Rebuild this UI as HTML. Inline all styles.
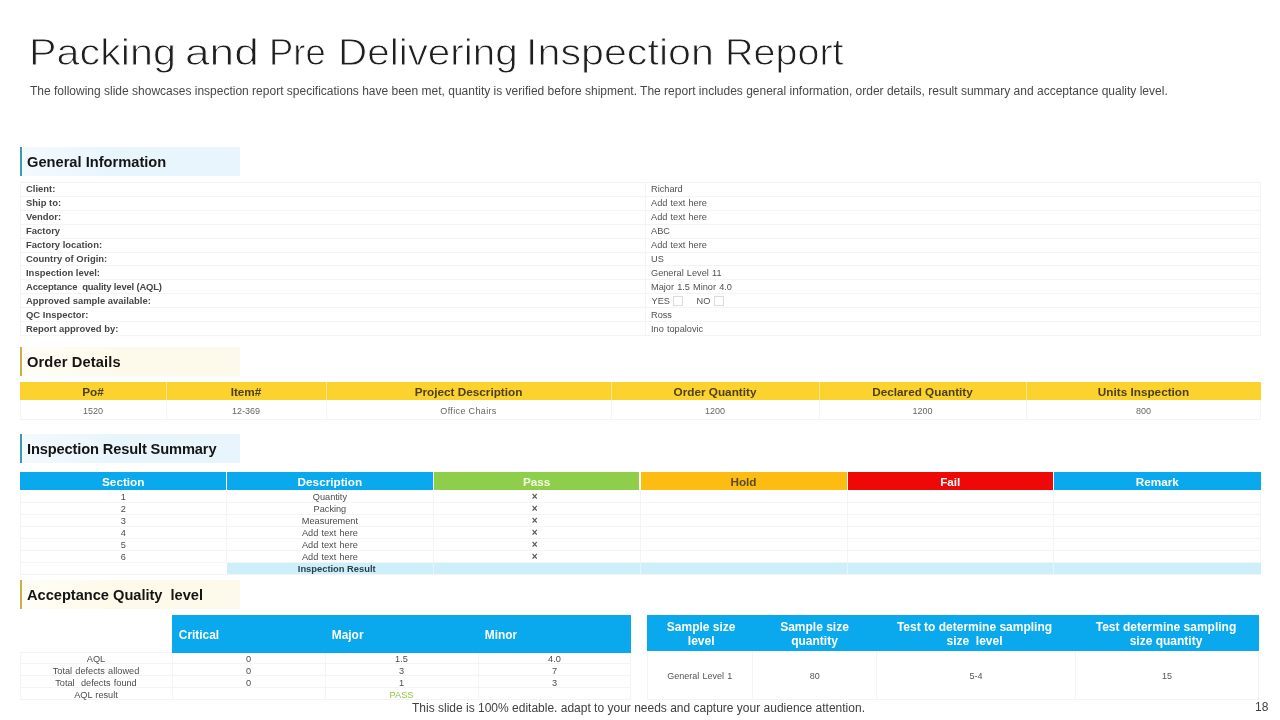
<!DOCTYPE html>
<html><head><meta charset="utf-8"><title>Packing and Pre Delivering Inspection Report</title>
<style>
*{box-sizing:border-box;margin:0;padding:0}
html,body{width:1280px;height:720px;overflow:hidden;background:#fff}
body{font-family:"Liberation Sans",sans-serif;color:#333;position:relative}
.abs{position:absolute;white-space:nowrap}
.b{position:absolute}
.t{position:absolute;white-space:nowrap;height:0;line-height:0;margin-top:-0.3465em}
#title{position:absolute;left:0;top:0;font-weight:normal;font-size:35px;color:#1f1f1f;-webkit-text-stroke:0.85px #fff}
#title span{position:absolute;top:31.7px;white-space:nowrap;transform-origin:0 0}
#sub{left:30px;top:84px;font-size:12px;line-height:14px;color:#484848}
.sec{position:absolute;left:20px;width:220px;height:29px;border-left:2px solid #3a9bb0;font-weight:bold;font-size:14.67px;line-height:31px;padding-left:5px;color:#151515;white-space:nowrap;overflow:hidden;background:linear-gradient(90deg,#f3fafe,#e9f5fd 40%)}
.sec.y{border-left-color:#cdb045;background:linear-gradient(90deg,#fffdf6,#fefaeb 40%)}
.lab{font-weight:bold;font-size:9.45px;color:#464646}
.val{font-size:9.2px;word-spacing:.6px;color:#505050}
.cb{display:inline-block;width:9px;height:9px;border:1px solid #d4d4d4;vertical-align:-1.5px;margin-left:3px}
.oh{font-weight:bold;font-size:11.75px;color:#4d4118}
.ov{font-size:9px;color:#666}
.ih{font-weight:bold;font-size:11.75px}
.iv{font-size:9.2px;word-spacing:.6px;color:#4c4c4c}
.ix{font-size:10px;font-weight:bold;color:#555}
.ib{font-weight:bold;font-size:9.35px;color:#2a3d48}
.ah{font-weight:bold;font-size:11.9px;color:#fff}
.sh{font-weight:bold;font-size:12px;color:#fff}
.sv{font-size:9px;word-spacing:.7px;color:#555}
#foot{left:412px;top:701px;font-size:12px;line-height:14px;color:#404040}
#pn{left:1255px;top:700px;font-size:12px;line-height:14px;color:#404040}
</style></head><body>
<h1 id="title"><span style="left:28.96px;transform:scale(1.1807,1.04)">Packing</span> <span style="left:185.47px;transform:scale(1.2639,1.04)">and</span> <span style="left:269.38px;transform:scale(1.0408,1.04)">Pre</span> <span style="left:337.79px;transform:scale(1.155,1.04)">Delivering</span> <span style="left:525.89px;transform:scale(1.1778,1.04)">Inspection</span> <span style="left:724.61px;transform:scale(1.1287,1.04)">Report</span></h1>
<div id="sub" class="abs">The following slide showcases inspection report specifications have been met, quantity is verified before shipment. The report includes general information, order details, result summary and acceptance quality level.</div>
<div class="sec" style="top:147px">General Information</div>
<div class="sec y" style="top:347px;letter-spacing:0.13px">Order Details</div>
<div class="sec" style="top:434px;letter-spacing:-0.145px">Inspection Result Summary</div>
<div class="sec y" style="top:580px;letter-spacing:-0.03px">Acceptance Quality&nbsp; level</div>
<div class="b" style="left:20px;top:182.0px;width:1241px;height:153.9px;border:1px solid #f4f4f4;"></div>
<div class="b" style="left:645px;top:183.0px;width:1px;height:152.9px;background:#f4f4f4;"></div>
<div class="t lab" style="left:26px;top:192.6px;">Client:</div>
<div class="t val" style="left:651px;top:191.7px;">Richard</div>
<div class="b" style="left:20px;top:195.9px;width:1241px;height:1.0px;background:#f4f4f4;"></div>
<div class="t lab" style="left:26px;top:206.6px;">Ship to:</div>
<div class="t val" style="left:651px;top:205.7px;">Add text here</div>
<div class="b" style="left:20px;top:209.8px;width:1241px;height:1.0px;background:#f4f4f4;"></div>
<div class="t lab" style="left:26px;top:220.6px;">Vendor:</div>
<div class="t val" style="left:651px;top:219.7px;">Add text here</div>
<div class="b" style="left:20px;top:223.7px;width:1241px;height:1.0px;background:#f4f4f4;"></div>
<div class="t lab" style="left:26px;top:234.6px;">Factory</div>
<div class="t val" style="left:651px;top:233.7px;">ABC</div>
<div class="b" style="left:20px;top:237.6px;width:1241px;height:1.0px;background:#f4f4f4;"></div>
<div class="t lab" style="left:26px;top:248.6px;">Factory location:</div>
<div class="t val" style="left:651px;top:247.7px;">Add text here</div>
<div class="b" style="left:20px;top:251.5px;width:1241px;height:1.0px;background:#f4f4f4;"></div>
<div class="t lab" style="left:26px;top:262.6px;">Country of Origin:</div>
<div class="t val" style="left:651px;top:261.7px;">US</div>
<div class="b" style="left:20px;top:265.4px;width:1241px;height:1.0px;background:#f4f4f4;"></div>
<div class="t lab" style="left:26px;top:276.6px;">Inspection level:</div>
<div class="t val" style="left:651px;top:275.7px;">General Level 11</div>
<div class="b" style="left:20px;top:279.3px;width:1241px;height:1.0px;background:#f4f4f4;"></div>
<div class="t lab" style="left:26px;top:290.6px;"><span style="letter-spacing:-0.17px">Acceptance&nbsp; quality level (AQL)</span></div>
<div class="t val" style="left:651px;top:289.7px;">Major 1.5 Minor 4.0</div>
<div class="b" style="left:20px;top:293.2px;width:1241px;height:1.0px;background:#f4f4f4;"></div>
<div class="t lab" style="left:26px;top:304.6px;">Approved sample available:</div>
<div class="t val" style="left:651.5px;top:303.7px;">YES</div>
<div class="t val" style="left:696.5px;top:303.7px;">NO</div>
<div class="b" style="left:673px;top:296px;width:10px;height:10px;border:1px solid #dcdcdc;"></div>
<div class="b" style="left:714px;top:296px;width:10px;height:10px;border:1px solid #dcdcdc;"></div>
<div class="b" style="left:20px;top:307.1px;width:1241px;height:1.0px;background:#f4f4f4;"></div>
<div class="t lab" style="left:26px;top:318.6px;">QC Inspector:</div>
<div class="t val" style="left:651px;top:317.7px;">Ross</div>
<div class="b" style="left:20px;top:321.0px;width:1241px;height:1.0px;background:#f4f4f4;"></div>
<div class="t lab" style="left:26px;top:332.6px;">Report approved by:</div>
<div class="t val" style="left:651px;top:331.7px;">Ino topalovic</div>
<div class="b" style="left:20px;top:382px;width:1241px;height:18.2px;background:#fcd22f;"></div>
<div class="b" style="left:20px;top:400.2px;width:1241px;height:20.3px;border:1px solid #f4f4f4;border-top:0;"></div>
<div class="t oh" style="left:93.0px;top:395.6px;transform:translateX(-50%);">Po#</div>
<div class="t ov" style="left:93.0px;top:413.9px;transform:translateX(-50%);">1520</div>
<div class="b" style="left:165.5px;top:382px;width:1.0px;height:18.2px;background:#fde88c;"></div>
<div class="b" style="left:165.5px;top:400.2px;width:1.0px;height:19.8px;background:#f4f4f4;"></div>
<div class="t oh" style="left:246.0px;top:395.6px;transform:translateX(-50%);">Item#</div>
<div class="t ov" style="left:246.0px;top:413.9px;transform:translateX(-50%);">12-369</div>
<div class="b" style="left:325.5px;top:382px;width:1.0px;height:18.2px;background:#fde88c;"></div>
<div class="b" style="left:325.5px;top:400.2px;width:1.0px;height:19.8px;background:#f4f4f4;"></div>
<div class="t oh" style="left:468.5px;top:395.6px;transform:translateX(-50%);">Project Description</div>
<div class="t ov" style="left:468.5px;top:413.9px;transform:translateX(-50%);"><span style="letter-spacing:.35px">Office Chairs</span></div>
<div class="b" style="left:610.5px;top:382px;width:1.0px;height:18.2px;background:#fde88c;"></div>
<div class="b" style="left:610.5px;top:400.2px;width:1.0px;height:19.8px;background:#f4f4f4;"></div>
<div class="t oh" style="left:715.0px;top:395.6px;transform:translateX(-50%);">Order Quantity</div>
<div class="t ov" style="left:715.0px;top:413.9px;transform:translateX(-50%);">1200</div>
<div class="b" style="left:818.5px;top:382px;width:1.0px;height:18.2px;background:#fde88c;"></div>
<div class="b" style="left:818.5px;top:400.2px;width:1.0px;height:19.8px;background:#f4f4f4;"></div>
<div class="t oh" style="left:922.5px;top:395.6px;transform:translateX(-50%);">Declared Quantity</div>
<div class="t ov" style="left:922.5px;top:413.9px;transform:translateX(-50%);">1200</div>
<div class="b" style="left:1025.5px;top:382px;width:1.0px;height:18.2px;background:#fde88c;"></div>
<div class="b" style="left:1025.5px;top:400.2px;width:1.0px;height:19.8px;background:#f4f4f4;"></div>
<div class="t oh" style="left:1143.5px;top:395.6px;transform:translateX(-50%);">Units Inspection</div>
<div class="t ov" style="left:1143.5px;top:413.9px;transform:translateX(-50%);">800</div>
<div class="b" style="left:20px;top:491.5px;width:1241px;height:83.44px;border:1px solid #f4f4f4;border-top:0;"></div>
<div class="b" style="left:226.5px;top:563.0px;width:1034.5px;height:11.4px;background:#cdeefb;"></div>
<div class="b" style="left:20px;top:472px;width:206.0px;height:18.3px;background:#0aa9ed;"></div>
<div class="t ih" style="left:123.25px;top:485.6px;transform:translateX(-50%);color:#fff;">Section</div>
<div class="b" style="left:227.0px;top:472px;width:205.8px;height:18.3px;background:#0aa9ed;"></div>
<div class="t ih" style="left:329.9px;top:485.6px;transform:translateX(-50%);color:#fff;">Description</div>
<div class="b" style="left:226.0px;top:490.3px;width:1.0px;height:72.7px;background:#f4f4f4;"></div>
<div class="b" style="left:433.8px;top:472px;width:205.7px;height:18.3px;background:#8fce4a;"></div>
<div class="t ih" style="left:536.65px;top:485.6px;transform:translateX(-50%);color:#f4ffe6;">Pass</div>
<div class="b" style="left:432.8px;top:490.3px;width:1.0px;height:72.7px;background:#f4f4f4;"></div>
<div class="b" style="left:432.8px;top:563.0px;width:1.0px;height:11.4px;background:#e4f6fd;"></div>
<div class="b" style="left:640.5px;top:472px;width:206.0px;height:18.3px;background:#fdbc11;"></div>
<div class="t ih" style="left:743.5px;top:485.6px;transform:translateX(-50%);color:#5a4a20;">Hold</div>
<div class="b" style="left:639.5px;top:490.3px;width:1.0px;height:72.7px;background:#f4f4f4;"></div>
<div class="b" style="left:639.5px;top:563.0px;width:1.0px;height:11.4px;background:#e4f6fd;"></div>
<div class="b" style="left:847.5px;top:472px;width:205.5px;height:18.3px;background:#ee0808;"></div>
<div class="t ih" style="left:950.25px;top:485.6px;transform:translateX(-50%);color:#fff;">Fail</div>
<div class="b" style="left:846.5px;top:490.3px;width:1.0px;height:72.7px;background:#f4f4f4;"></div>
<div class="b" style="left:846.5px;top:563.0px;width:1.0px;height:11.4px;background:#e4f6fd;"></div>
<div class="b" style="left:1054.0px;top:472px;width:207.0px;height:18.3px;background:#0aa9ed;"></div>
<div class="t ih" style="left:1157.25px;top:485.6px;transform:translateX(-50%);color:#fff;">Remark</div>
<div class="b" style="left:1053.0px;top:490.3px;width:1.0px;height:72.7px;background:#f4f4f4;"></div>
<div class="b" style="left:1053.0px;top:563.0px;width:1.0px;height:11.4px;background:#e4f6fd;"></div>
<div class="b" style="left:20px;top:502.4px;width:1241px;height:1.0px;background:#f4f4f4;"></div>
<div class="t iv" style="left:123.25px;top:500.0px;transform:translateX(-50%);">1</div>
<div class="t iv" style="left:329.9px;top:500.0px;transform:translateX(-50%);">Quantity</div>
<div class="t ix" style="left:534.6px;top:500.0px;transform:translateX(-50%);">&#215;</div>
<div class="b" style="left:20px;top:514.3px;width:1241px;height:1.0px;background:#f4f4f4;"></div>
<div class="t iv" style="left:123.25px;top:512.0px;transform:translateX(-50%);">2</div>
<div class="t iv" style="left:329.9px;top:512.0px;transform:translateX(-50%);">Packing</div>
<div class="t ix" style="left:534.6px;top:512.0px;transform:translateX(-50%);">&#215;</div>
<div class="b" style="left:20px;top:526.3px;width:1241px;height:1.0px;background:#f4f4f4;"></div>
<div class="t iv" style="left:123.25px;top:524.0px;transform:translateX(-50%);">3</div>
<div class="t iv" style="left:329.9px;top:524.0px;transform:translateX(-50%);">Measurement</div>
<div class="t ix" style="left:534.6px;top:524.0px;transform:translateX(-50%);">&#215;</div>
<div class="b" style="left:20px;top:538.2px;width:1241px;height:1.0px;background:#f4f4f4;"></div>
<div class="t iv" style="left:123.25px;top:536.0px;transform:translateX(-50%);">4</div>
<div class="t iv" style="left:329.9px;top:536.0px;transform:translateX(-50%);">Add text here</div>
<div class="t ix" style="left:534.6px;top:536.0px;transform:translateX(-50%);">&#215;</div>
<div class="b" style="left:20px;top:550.1px;width:1241px;height:1.0px;background:#f4f4f4;"></div>
<div class="t iv" style="left:123.25px;top:548.0px;transform:translateX(-50%);">5</div>
<div class="t iv" style="left:329.9px;top:548.0px;transform:translateX(-50%);">Add text here</div>
<div class="t ix" style="left:534.6px;top:548.0px;transform:translateX(-50%);">&#215;</div>
<div class="b" style="left:20px;top:562.0px;width:1241px;height:1.0px;background:#f4f4f4;"></div>
<div class="t iv" style="left:123.25px;top:560.0px;transform:translateX(-50%);">6</div>
<div class="t iv" style="left:329.9px;top:560.0px;transform:translateX(-50%);">Add text here</div>
<div class="t ix" style="left:534.6px;top:560.0px;transform:translateX(-50%);">&#215;</div>
<div class="t ib" style="left:336.75px;top:572.3px;transform:translateX(-50%);">Inspection Result</div>
<div class="b" style="left:172px;top:615px;width:459px;height:38px;background:#0aa9ed;"></div>
<div class="t ah" style="left:178.8px;top:639px;">Critical</div>
<div class="t ah" style="left:331.8px;top:639px;">Major</div>
<div class="t ah" style="left:484.8px;top:639px;">Minor</div>
<div class="b" style="left:20px;top:653px;width:611px;height:47.3px;border:1px solid #f4f4f4;border-top:0;"></div>
<div class="b" style="left:20px;top:652px;width:152px;height:1px;background:#f4f4f4;"></div>
<div class="b" style="left:171.5px;top:653px;width:1.0px;height:47.3px;background:#f4f4f4;"></div>
<div class="b" style="left:324.5px;top:653px;width:1.0px;height:47.3px;background:#f4f4f4;"></div>
<div class="b" style="left:477.5px;top:653px;width:1.0px;height:47.3px;background:#f4f4f4;"></div>
<div class="b" style="left:20px;top:663.2px;width:611px;height:1.0px;background:#f4f4f4;"></div>
<div class="t iv" style="left:96.0px;top:661.9px;transform:translateX(-50%);">AQL</div>
<div class="t iv" style="left:248.5px;top:661.9px;transform:translateX(-50%);">0</div>
<div class="t iv" style="left:401.5px;top:661.9px;transform:translateX(-50%);">1.5</div>
<div class="t iv" style="left:554.5px;top:661.9px;transform:translateX(-50%);">4.0</div>
<div class="b" style="left:20px;top:675.3px;width:611px;height:1.0px;background:#f4f4f4;"></div>
<div class="t iv" style="left:96.0px;top:673.9px;transform:translateX(-50%);">Total defects allowed</div>
<div class="t iv" style="left:248.5px;top:673.9px;transform:translateX(-50%);">0</div>
<div class="t iv" style="left:401.5px;top:673.9px;transform:translateX(-50%);">3</div>
<div class="t iv" style="left:554.5px;top:673.9px;transform:translateX(-50%);">7</div>
<div class="b" style="left:20px;top:687.3px;width:611px;height:1.0px;background:#f4f4f4;"></div>
<div class="t iv" style="left:96.0px;top:686.0px;transform:translateX(-50%);">Total&nbsp; defects found</div>
<div class="t iv" style="left:248.5px;top:686.0px;transform:translateX(-50%);">0</div>
<div class="t iv" style="left:401.5px;top:686.0px;transform:translateX(-50%);">1</div>
<div class="t iv" style="left:554.5px;top:686.0px;transform:translateX(-50%);">3</div>
<div class="t iv" style="left:96.0px;top:698.0px;transform:translateX(-50%);">AQL result</div>
<div class="t iv" style="left:401.5px;top:698.0px;transform:translateX(-50%);color:#8cc63f;">PASS</div>
<div class="b" style="left:647px;top:615px;width:612px;height:36px;background:#0aa9ed;"></div>
<div class="b" style="left:647px;top:651px;width:612px;height:48.5px;border:1px solid #f4f4f4;border-top:0;"></div>
<div class="t sh" style="left:701.2px;top:630.9px;transform:translateX(-50%);">Sample size</div>
<div class="t sh" style="left:701.2px;top:645.2px;transform:translateX(-50%);">level</div>
<div class="t sv" style="left:699.75px;top:678.9px;transform:translateX(-50%);">General Level 1</div>
<div class="b" style="left:752.0px;top:651px;width:1.0px;height:48px;background:#f4f4f4;"></div>
<div class="t sh" style="left:814.5px;top:630.9px;transform:translateX(-50%);">Sample size</div>
<div class="t sh" style="left:814.5px;top:645.2px;transform:translateX(-50%);">quantity</div>
<div class="t sv" style="left:814.65px;top:678.9px;transform:translateX(-50%);">80</div>
<div class="b" style="left:876.3px;top:651px;width:1.0px;height:48px;background:#f4f4f4;"></div>
<div class="t sh" style="left:974.5px;top:630.9px;transform:translateX(-50%);">Test to determine sampling</div>
<div class="t sh" style="left:974.5px;top:645.2px;transform:translateX(-50%);">size&nbsp; level</div>
<div class="t sv" style="left:975.9px;top:678.9px;transform:translateX(-50%);">5-4</div>
<div class="b" style="left:1074.5px;top:651px;width:1.0px;height:48px;background:#f4f4f4;"></div>
<div class="t sh" style="left:1166px;top:630.9px;transform:translateX(-50%);">Test determine sampling</div>
<div class="t sh" style="left:1166px;top:645.2px;transform:translateX(-50%);">size quantity</div>
<div class="t sv" style="left:1167.0px;top:678.9px;transform:translateX(-50%);">15</div>
<div id="foot" class="abs">This slide is 100% editable. adapt to your needs and capture your audience attention.</div>
<div id="pn" class="abs">18</div>
</body></html>
